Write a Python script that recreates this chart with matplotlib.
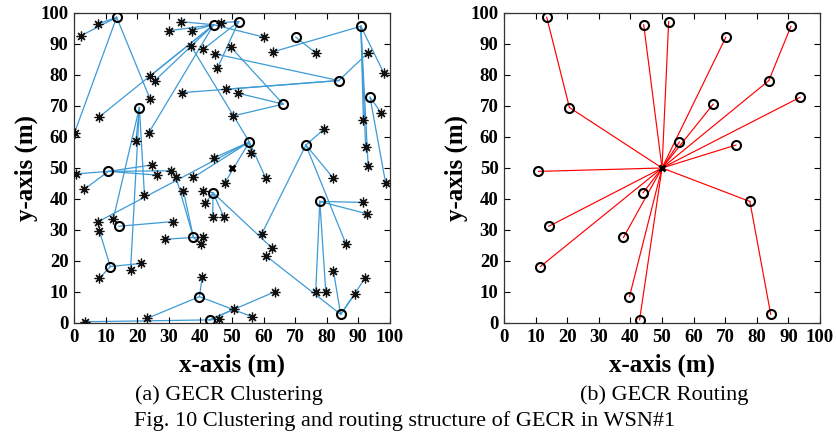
import numpy as np
import matplotlib.pyplot as plt

# cabezas de cluster (CH)
ch_x = [13.5, 20.7, 44.2, 52.1, 70.2, 90.8, 83.8, 93.7, 66.2, 55.5,
        73.4, 10.9, 44.0, 14.2, 37.8, 11.5, 39.7, 42.9, 77.8, 84.4]
ch_y = [98.6, 69.5, 96.2, 97.2, 92.2, 95.7, 78.2, 72.8, 70.6, 58.4,
        57.4, 48.9, 42.0, 31.2, 27.6, 18.2, 8.5, 1.0, 39.2, 2.8]
# siguiente salto de cada CH (-1 = estacion base)
ch_next = [1, -1, -1, -1, -1, 6, -1, -1, -1, -1,
           -1, -1, -1, -1, -1, -1, -1, -1, -1, 18]
bs = (50, 50)

# nodos normales y el CH al que pertenecen
node_x = [2.1, 7.7, 0.2, 7.9, 24.1, 25.6, 24.1, 23.7, 19.6, 24.8,
          33.9, 30.2, 37.2, 46.4, 37.0, 40.9, 44.6, 45.4, 34.3, 48.2,
          44.4, 49.7, 60.2, 63.1, 76.6, 93.1, 98.1, 97.2, 91.6, 79.2,
          92.3, 93.1, 52.0, 50.4, 55.9, 0.6, 3.2, 26.4, 22.3, 30.6,
          32.3, 37.8, 34.6, 40.9, 41.5, 43.9, 47.5, 47.8, 7.7, 8.0,
          12.4, 31.2, 28.8, 40.9, 40.1, 8.0, 17.9, 21.1, 40.6, 46.0,
          3.5, 23.2, 60.7, 98.6, 82.1, 91.4, 92.8, 59.4, 62.8, 60.7,
          86.1, 82.1, 92.1, 76.5, 79.7, 88.9, 63.6, 50.7, 56.4]
node_y = [92.6, 96.5, 61.4, 66.4, 79.7, 78.2, 72.2, 61.4, 58.7, 51.0,
          97.2, 94.3, 94.3, 96.9, 89.4, 88.3, 86.8, 82.2, 74.3, 75.4,
          53.3, 88.9, 92.2, 87.5, 87.0, 87.2, 80.5, 67.8, 65.5, 62.6,
          56.7, 50.6, 74.1, 66.8, 54.7, 48.1, 43.1, 47.7, 41.3, 49.1,
          47.0, 47.0, 42.7, 42.7, 38.6, 34.1, 34.1, 45.3, 32.7, 29.8,
          33.4, 32.7, 27.0, 27.6, 25.5, 14.4, 17.1, 19.2, 14.9, 1.2,
          0.4, 1.5, 46.7, 45.3, 46.7, 38.9, 35.2, 28.7, 24.1, 21.7,
          25.4, 16.9, 14.4, 9.9, 9.9, 9.3, 10.1, 4.5, 2.0]
node_ch = [0, 0, 0, 2, 2, 2, 0, 2, 1, 11,
           2, 2, 2, 3, 9, 3, 6, 3, 6, 6,
           9, 8, 2, 5, 4, 6, 5, 7, 5, 10,
           5, 5, 8, 8, 9, 11, 11, 11, 1, 11,
           14, 9, 14, 12, 12, 12, 12, 9, 9, 15,
           1, 13, 14, 14, 14, 15, 1, 15, 16, 17,
           17, 16, 9, 7, 10, 18, 18, 10, 12, 19,
           10, 19, 19, 18, 18, 19, 17, 17, 16]

plt.rcParams['font.family'] = 'Liberation Serif'
azul = '#3d9bd6'

fig = plt.figure(figsize=(8.37, 4.41), dpi=100)
ax1 = fig.add_axes([0.0884, 0.2676, 0.3775, 0.703])
ax2 = fig.add_axes([0.6022, 0.2676, 0.3775, 0.703])

# (a) clustering
for i in range(len(node_x)):
    c = node_ch[i]
    ax1.plot([node_x[i], ch_x[c]], [node_y[i], ch_y[c]], '-', color=azul, lw=0.9, zorder=1)
ax1.plot(node_x, node_y, linestyle='none', marker=(8, 2, 0), color='#111111', ms=7, mew=0.9, zorder=3)
ax1.plot(ch_x, ch_y, 'o', color='k', mfc='none', ms=6.5, mew=1.5, zorder=4)
ax1.plot(bs[0], bs[1], 'x', color='k', ms=5, mew=2, zorder=4)

# (b) routing
for i in range(len(ch_x)):
    n = ch_next[i]
    tx, ty = (bs if n < 0 else (ch_x[n], ch_y[n]))
    ax2.plot([ch_x[i], tx], [ch_y[i], ty], '-', color='red', lw=0.85, zorder=1)
ax2.plot(ch_x, ch_y, 'o', color='k', mfc='none', ms=6.5, mew=1.5, zorder=4)
ax2.plot(bs[0], bs[1], 'x', color='k', ms=5, mew=2, zorder=4)

for ax in (ax1, ax2):
    ax.set_xlim(0, 100)
    ax.set_ylim(0, 100)
    ax.set_xticks(np.arange(0, 101, 10))
    ax.set_yticks(np.arange(0, 101, 10))
    ax.tick_params(direction='in', top=True, right=True, length=4, width=0.8,
                   labelsize=13.5, pad=4)
    for lab in ax.get_xticklabels() + ax.get_yticklabels():
        lab.set_fontweight('bold')
    for s in ax.spines.values():
        s.set_linewidth(0.9)
        s.set_color('#333333')
    ax.set_xlabel('x-axis (m)', fontsize=18, fontweight='bold', labelpad=6)
    ax.set_ylabel('y-axis (m)', fontsize=18, fontweight='bold', labelpad=2)

fig.text(0.2735, 0.104, '(a) GECR Clustering', fontsize=16, ha='center', va='center')
fig.text(0.794, 0.104, '(b) GECR Routing', fontsize=16, ha='center', va='center')
fig.text(0.483, 0.045, 'Fig. 10 Clustering and routing structure of GECR in WSN#1',
         fontsize=16, ha='center', va='center')

plt.savefig('out.png', dpi=100)
plt.close()
